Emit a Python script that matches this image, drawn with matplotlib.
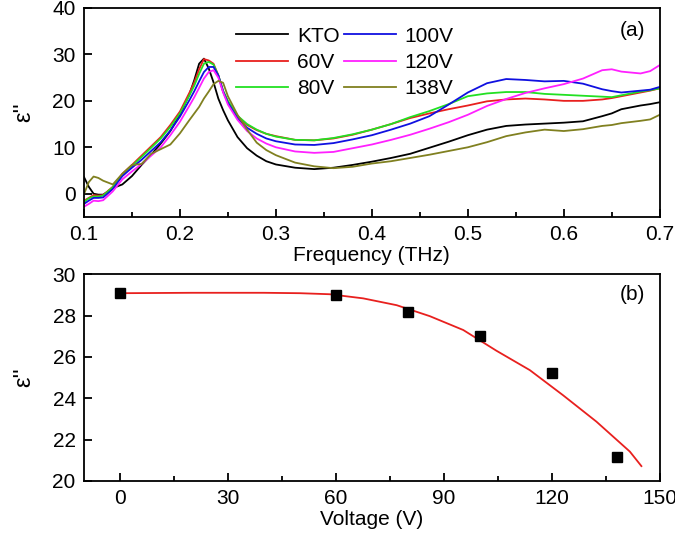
import matplotlib
matplotlib.use("Agg")
import matplotlib.pyplot as plt
from matplotlib.ticker import MultipleLocator

plt.rcParams['font.family'] = ['Liberation Sans', 'DejaVu Sans']

#1 data for panel (a): imaginary permittivity vs frequency
freq = [0.100, 0.105, 0.110, 0.115, 0.120, 0.130, 0.140, 0.150, 0.160, 0.170,
        0.180, 0.190, 0.200, 0.210, 0.215, 0.220, 0.225, 0.230, 0.235, 0.240,
        0.245, 0.250, 0.260, 0.270, 0.280, 0.290, 0.300, 0.320, 0.340, 0.360,
        0.380, 0.400, 0.420, 0.440, 0.460, 0.480, 0.500, 0.520, 0.540, 0.560,
        0.580, 0.600, 0.620, 0.640, 0.650, 0.660, 0.680, 0.690, 0.700]

eps_kto = [3.6, 1.5, 0.0, -0.2, -0.2, 1.2, 2.0, 3.8, 6.2, 8.4,
           10.8, 13.5, 17.0, 21.5, 24.5, 28.0, 29.1, 27.0, 24.0, 20.5,
           18.0, 15.8, 12.2, 9.8, 8.2, 7.0, 6.3, 5.6, 5.3, 5.6,
           6.2, 6.9, 7.7, 8.6, 9.9, 11.2, 12.6, 13.8, 14.6, 14.9,
           15.1, 15.3, 15.6, 16.7, 17.3, 18.2, 19.0, 19.3, 19.7]
eps_60 = [-1.5, -0.9, -0.3, -0.4, -0.3, 1.5, 4.3, 6.2, 8.2, 10.2,
          12.2, 14.8, 17.7, 21.8, 24.0, 26.8, 29.0, 28.7, 28.0, 25.5,
          22.0, 19.8, 16.6, 14.8, 13.7, 12.9, 12.4, 11.6, 11.5, 11.9,
          12.7, 13.8, 15.0, 16.3, 17.3, 18.2, 19.0, 19.9, 20.3, 20.5,
          20.3, 20.0, 20.0, 20.3, 20.6, 21.0, 21.8, 22.2, 22.7]
eps_80 = [-1.8, -1.0, -0.6, -0.6, -0.4, 1.4, 4.1, 6.0, 7.9, 9.9,
          11.9, 14.4, 17.3, 21.2, 23.3, 25.8, 28.0, 28.4, 27.8, 25.5,
          22.2, 20.0, 16.8, 15.0, 13.8, 12.9, 12.3, 11.6, 11.5, 12.0,
          12.8, 13.8, 15.0, 16.5, 17.8, 19.3, 21.0, 21.6, 21.9, 21.9,
          21.5, 21.3, 21.1, 20.9, 20.8, 21.2, 22.0, 22.3, 22.7]
eps_100 = [-2.2, -1.5, -0.9, -0.9, -0.8, 1.0, 3.8, 5.6, 7.3, 9.2,
           11.1, 13.6, 16.6, 20.2, 22.1, 24.2, 26.2, 27.3, 27.3, 25.5,
           22.0, 19.6, 16.2, 14.2, 12.9, 11.9, 11.3, 10.6, 10.5, 10.9,
           11.7, 12.6, 13.8, 15.1, 16.7, 19.2, 21.8, 23.8, 24.7, 24.5,
           24.2, 24.3, 23.7, 22.5, 22.1, 21.8, 22.2, 22.4, 23.0]
eps_120 = [-2.8, -2.2, -1.5, -1.6, -1.4, 0.5, 3.1, 4.8, 6.4, 8.2,
           10.0, 12.6, 15.5, 19.0, 20.8, 22.8, 24.8, 26.2, 26.6, 25.0,
           21.8, 19.2, 15.9, 13.5, 11.9, 10.8, 10.0, 9.1, 8.8, 9.0,
           9.8, 10.6, 11.6, 12.7, 14.0, 15.4, 17.0, 18.9, 20.4, 21.7,
           22.7, 23.6, 24.8, 26.6, 26.8, 26.3, 25.9, 26.4, 27.7]
eps_138 = [-0.1, 2.5, 3.7, 3.4, 2.8, 2.0, 4.3, 6.2, 6.4, 8.6,
           9.6, 10.6, 13.0, 15.9, 17.3, 18.7, 20.5, 22.0, 23.6, 24.3,
           23.9, 21.0, 17.0, 13.8, 11.0, 9.4, 8.3, 6.7, 5.9, 5.5,
           5.8, 6.5, 7.0, 7.7, 8.4, 9.2, 10.0, 11.1, 12.4, 13.2,
           13.8, 13.5, 13.9, 14.6, 14.8, 15.2, 15.7, 16.0, 17.0]

labels = ["KTO", "60V", "80V", "100V", "120V", "138V"]
colors = ["black", "#e8201e", "#22e022", "#1010e0", "#ff20ff", "#808020"]

#2 data for panel (b): peak value vs voltage plus fitted curve
voltage = [0, 60, 80, 100, 120, 138]
peak_eps = [29.1, 29.0, 28.15, 27.0, 25.2, 21.15]
fit_v = [0, 20, 40, 50, 58.3, 67.6, 76.9, 86.1, 95.4, 104.6, 113.9,
         123.1, 132.4, 141.7, 144.9]
fit_eps = [29.08, 29.1, 29.1, 29.08, 29.03, 28.83, 28.5, 27.97, 27.3,
           26.3, 25.36, 24.15, 22.87, 21.42, 20.72]

#3 figure and axes
fig = plt.figure(figsize=(6.75, 5.33), dpi=100)
ax1 = fig.add_axes([0.1244, 0.593, 0.853, 0.392])
ax2 = fig.add_axes([0.1244, 0.0976, 0.853, 0.388])

# panel (a)
series = [eps_kto, eps_60, eps_80, eps_100, eps_120, eps_138]
for s, lab, c in zip(series, labels, colors):
    ax1.plot(freq, s, color=c, lw=1.3, label=lab)

ax1.set_xlim(0.1, 0.7)
ax1.set_ylim(-5, 40)
ax1.xaxis.set_major_locator(MultipleLocator(0.1))
ax1.xaxis.set_minor_locator(MultipleLocator(0.05))
ax1.set_yticks([0, 10, 20, 30, 40])
ax1.set_xlabel("Frequency (THz)", fontsize=15, labelpad=1)
ax1.set_ylabel("ε''", fontsize=17, labelpad=12)
ax1.legend(ncol=2, frameon=False, fontsize=15, loc="upper left",
           bbox_to_anchor=(0.243, 0.97), handlelength=2.5, handletextpad=0.4,
           columnspacing=0.2, labelspacing=0.35, borderaxespad=0.2)
ax1.text(0.975, 0.89, "(a)", transform=ax1.transAxes, ha="right", va="center",
         fontsize=15)

# panel (b)
ax2.plot(fit_v, fit_eps, color="#e8201e", lw=1.3)
ax2.plot(voltage, peak_eps, "s", color="black", markersize=7.5)
ax2.set_xlim(-10, 150)
ax2.set_ylim(20, 30)
ax2.xaxis.set_major_locator(MultipleLocator(30))
ax2.xaxis.set_minor_locator(MultipleLocator(15))
ax2.yaxis.set_major_locator(MultipleLocator(2))
ax2.set_xlabel("Voltage (V)", fontsize=15, labelpad=1)
ax2.set_ylabel("ε''", fontsize=17, labelpad=12)
ax2.text(0.975, 0.9, "(b)", transform=ax2.transAxes, ha="right", va="center",
         fontsize=15)

for ax in (ax1, ax2):
    for sp in ax.spines.values():
        sp.set_linewidth(1.3)
    ax.tick_params(which="both", direction="in", top=False, right=False,
                   labelsize=15, width=1.3)
    ax.tick_params(which="major", length=6, pad=6)
    ax.tick_params(which="minor", length=3.5)

fig.savefig("out.png", dpi=100)
